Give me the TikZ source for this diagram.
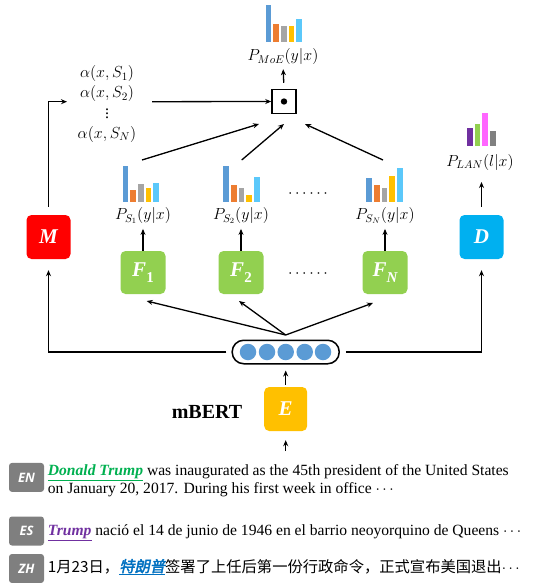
\RequirePackage{fix-cm}
\documentclass[tikz,border=0pt]{standalone}
\usepackage{fontspec}
\setmainfont{Liberation Serif}
\newfontfamily\cjkfont{Noto Sans CJK SC}
\newfontfamily\cjkbi[FakeSlant=0.2,FakeBold=2.5]{Noto Sans CJK SC}
\newfontfamily\tagfont{Open Sans}
\usetikzlibrary{arrows.meta}
\definecolor{cM}{HTML}{FF0000}
\definecolor{cD}{HTML}{00B0F0}
\definecolor{cF}{HTML}{92D050}
\definecolor{cE}{HTML}{FFC000}
\definecolor{b1}{HTML}{5B9BD5}
\definecolor{b2}{HTML}{ED7D31}
\definecolor{b3}{HTML}{A5A5A5}
\definecolor{b4}{HTML}{FFC000}
\definecolor{b5}{HTML}{5BC8FA}
\definecolor{l1}{HTML}{7030A0}
\definecolor{l2}{HTML}{92D050}
\definecolor{l3}{HTML}{FF66FF}
\definecolor{l4}{HTML}{808080}
\definecolor{tagc}{HTML}{7F7F7F}
\definecolor{tgreen}{HTML}{00B050}
\definecolor{tpurple}{HTML}{7030A0}
\definecolor{tblue}{HTML}{0070C0}
\newcommand\mybars[3]{\foreach \t/\c [count=\i from 0] in {#3} \fill[\c] ({#1+\i*7.67},#2) rectangle ({#1+\i*7.67+5.6},\t);}
\begin{document}
\begin{tikzpicture}[x=1pt,y=-1pt,
  box/.style={rounded corners=5pt, minimum width=44pt, minimum height=44pt, inner sep=0pt, text=white, font=\fontsize{21}{21}\selectfont\bfseries\itshape},
  arr/.style={-{Stealth[length=6pt,width=5pt]}, line width=1.3pt},
  lab/.style={font=\fontsize{16}{16}\selectfont, inner sep=0pt},
  tag/.style={fill=tagc, rounded corners=3pt, minimum width=35pt, minimum height=29pt, text=white, font=\tagfont\fontsize{13}{13}\selectfont\bfseries\itshape, inner sep=0pt},
  txt/.style={anchor=base west, inner sep=0pt, font=\fontsize{15.6}{15.6}\selectfont}]
\useasboundingbox (0,0) rectangle (545,583);

% bar charts
\mybars{265.7}{41.7}{5/b1,24/b2,26/b3,26/b4,19/b5}
\mybars{122.7}{201.7}{166/b1,190/b2,183.7/b3,187.7/b4,183/b5}
\mybars{223.3}{201.7}{166/b1,184.7/b2,187.7/b3,194.7/b4,176.7/b5}
\mybars{366.3}{201.7}{178/b1,184.7/b2,187.7/b3,175.7/b4,167.7/b5}
\mybars{467}{146}{128/l1,124/l2,113/l3,131/l4}

% labels
\node[lab] (PMoE) at (283,57) {$P_{MoE}(y|x)$};
\node[lab] (PLAN) at (480,162) {$P_{LAN}(l|x)$};
\node[lab] (PS1) at (143,215.7) {$P_{S_1}(y|x)$};
\node[lab] (PS2) at (241,215.7) {$P_{S_2}(y|x)$};
\node[lab] (PSN) at (385,215.7) {$P_{S_N}(y|x)$};
\node[lab, align=center, font=\fontsize{16}{20}\selectfont] (alpha) at (107,104) {$\alpha(x,S_1)$\\$\alpha(x,S_2)$\\$\vdots$\\$\alpha(x,S_N)$};
\node[lab] (dots1) at (308,194) {$\cdots\cdots$};
\node[lab] (dots2) at (308,274) {$\cdots\cdots$};

% product box
\node[draw, line width=1.5pt, minimum width=24pt, minimum height=24pt, inner sep=0pt] (dot) at (284,101.5) {};
\fill (dot.center) circle (3.2pt);

% boxes
\node[box, fill=cM] (M) at (48.5,237) {M};
\node[box, fill=cD] (D) at (481.5,237) {D};
\node[box, fill=cF, minimum width=45pt, minimum height=43pt] (F1) at (143,272.5) {F\raisebox{-0.25em}{\fontsize{15}{15}\selectfont\upshape 1}};
\node[box, fill=cF, minimum width=45pt, minimum height=43pt] (F2) at (241,272.5) {F\raisebox{-0.25em}{\fontsize{15}{15}\selectfont\upshape 2}};
\node[box, fill=cF, minimum width=45pt, minimum height=43pt] (FN) at (385,272.5) {F\raisebox{-0.25em}{\fontsize{15}{15}\selectfont N}};
\node[box, fill=cE, minimum width=43pt] (E) at (285.7,409) {E};
\node[font=\fontsize{20}{20}\selectfont\bfseries, inner sep=0pt] (mbert) at (207,412) {mBERT};

% encoder output
\node[draw, line width=1.5pt, rounded corners=11.5pt, minimum width=107pt, minimum height=23.5pt, inner sep=0pt] (enc) at (285.7,352) {};
\foreach \x [count=\i] in {248,267,285.7,304.7,323}
  \node[circle, fill=b1, minimum size=16.5pt, inner sep=0pt] (h\i) at (\x,352) {};

% coordinates
\coordinate (aIn) at (67,101.7);
\coordinate (aOut) at (152,101.7);
\coordinate (c1) at (142,160);
\coordinate (c2) at (241.7,160);
\coordinate (cN) at (383,160);
\coordinate (t1) at (259,124);
\coordinate (t2) at (284,124);
\coordinate (tN) at (305,124);
\coordinate (fan) at (285.7,335);
\coordinate (f1) at (146.7,301);
\coordinate (f2) at (239,301);
\coordinate (fN) at (373,303);
\coordinate (in) at (285.7,451);
\coordinate (dIn) at (481.5,182);

% connectors
\draw[arr] (aOut) -- (dot.west);
\draw[arr, shorten <=6pt, shorten >=4pt] (dot.north) -- (PMoE.south);
\draw[arr] (c1) -- (t1);
\draw[arr] (c2) -- (t2);
\draw[arr] (cN) -- (tN);
\draw[arr, shorten <=8pt] (M.north) |- (aIn);
\draw[arr, shorten <=8pt] (D.north) -- (dIn);
\draw[arr, shorten >=5pt] (F1.north) -- (PS1.south);
\draw[arr, shorten >=5pt] (F2.north) -- (PS2.south);
\draw[arr, shorten >=5pt] (FN.north) -- (PSN.south);
\draw[arr] (fan) -- (f1);
\draw[arr] (fan) -- (f2);
\draw[arr] (fan) -- (fN);
\draw[arr, shorten >=11pt] ([xshift=-5pt]enc.west) -| (M.south);
\draw[arr, shorten >=11pt] ([xshift=6pt]enc.east) -| (D.south);
\draw[arr, shorten <=2pt, shorten >=6pt] (E.north) -- (enc.south);
\draw[arr, shorten >=9pt] (in) -- (E.south);

% example texts
\node[tag] (tEN) at (26.5,477.4) {EN};
\node[tag] (tES) at (26.5,531) {ES};
\node[tag] (tZH) at (26.5,568.5) {ZH};
\node[txt] (en1) at (47.7,475) {{\color{tgreen}\bfseries\itshape\underline{Donald Trump}} was inaugurated as the 45th president of the United States};
\node[txt] (en2) at (47.7,493.3) {on January 20, 2017. During his first week in office $\cdots$};
\node[txt] (es) at (47.7,535) {{\color{tpurple}\bfseries\itshape\underline{Trump}} nació el 14 de junio de 1946 en el barrio neoyorquino de Queens $\cdots$};
\node[txt, font=\fontsize{15.3}{15.3}\selectfont] (zh) at (47.7,572) {{\cjkfont 1月23日，}{\color{tblue}\cjkbi\underline{特朗普}}{\cjkfont 签署了上任后第一份行政命令，正式宣布美国退出}$\cdots$};
\end{tikzpicture}
\end{document}
